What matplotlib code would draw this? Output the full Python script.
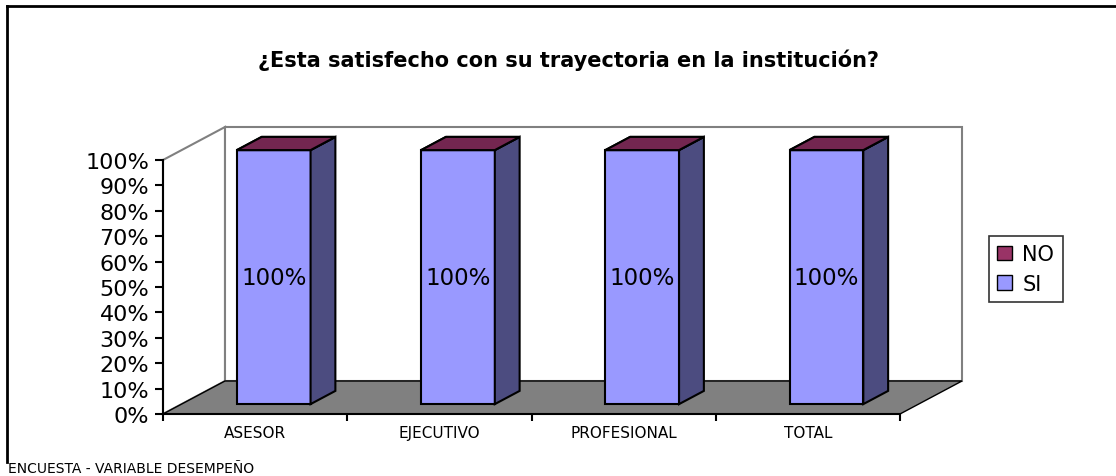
import matplotlib
matplotlib.use("Agg")
import matplotlib.pyplot as plt
from matplotlib.patches import Polygon, Patch
from matplotlib.lines import Line2D

# datos de la encuesta
categorias = ["ASESOR", "EJECUTIVO", "PROFESIONAL", "TOTAL"]
si = [1.00, 1.00, 1.00, 1.00]
no = [0.00, 0.00, 0.00, 0.00]
y_ticks = [0.0, 0.1, 0.2, 0.3, 0.4, 0.5, 0.6, 0.7, 0.8, 0.9, 1.0]

titulo = "¿Esta satisfecho con su trayectoria en la institución?"
pie = "ENCUESTA - VARIABLE DESEMPEÑO"

# colores estilo excel
c_si = "#9999FF"
c_si_lado = "#4C4C80"
c_no = "#993366"
c_no_arriba = "#732650"
gris = "#808080"

W, H = 1116, 477
fig = plt.figure(figsize=(W / 100, H / 100), dpi=100)
fig.patch.set_facecolor("white")

# plano frontal del grafico (en pixeles de la imagen)
x0, x1, y0, y1 = 163, 900, 415, 161
ax = fig.add_axes([x0 / W, 1 - y0 / H, (x1 - x0) / W, (y0 - y1) / H])
n = len(categorias)
ax.set_xlim(0, n)
ax.set_ylim(0, 1)
ax.patch.set_visible(False)

# vector de profundidad en unidades de datos
ddx = 62 / ((x1 - x0) / n)
ddy = 33 / (y0 - y1)
ancho = 0.4
p0, p1 = 0.3, 0.7   # posicion de la barra en la profundidad

# paredes
lado = Polygon([(0, 0), (0, 1), (ddx, 1 + ddy), (ddx, ddy)], closed=True,
               facecolor="white", edgecolor=gris, lw=1.5, clip_on=False, zorder=1)
fondo = Polygon([(ddx, ddy), (ddx, 1 + ddy), (n + ddx, 1 + ddy), (n + ddx, ddy)], closed=True,
                facecolor="white", edgecolor=gris, lw=1.5, clip_on=False, zorder=1)
piso = Polygon([(0, 0), (n, 0), (n + ddx, ddy), (ddx, ddy)], closed=True,
               facecolor=gris, edgecolor="black", lw=1, clip_on=False, zorder=2)
for p in (lado, fondo, piso):
    ax.add_patch(p)

# barras apiladas en 3d
for i in range(n):
    xa = i + 0.5 - ancho / 2 + p0 * ddx
    xb = xa + ancho
    base = p0 * ddy
    dx = (p1 - p0) * ddx
    dy = (p1 - p0) * ddy
    segs = [(si[i], c_si, c_si_lado, c_si), (no[i], c_no, c_no, c_no_arriba)]
    for val, cf, cl, ct in segs:
        ya, yb = base, base + val
        if val > 0:
            ax.add_patch(Polygon([(xa, ya), (xb, ya), (xb, yb), (xa, yb)], closed=True,
                                 facecolor=cf, edgecolor="black", lw=1.5, clip_on=False, zorder=3))
            ax.add_patch(Polygon([(xb, ya), (xb + dx, ya + dy), (xb + dx, yb + dy), (xb, yb)], closed=True,
                                 facecolor=cl, edgecolor="black", lw=1.5, clip_on=False, zorder=3))
        ax.add_patch(Polygon([(xa, yb), (xb, yb), (xb + dx, yb + dy), (xa + dx, yb + dy)], closed=True,
                             facecolor=ct, edgecolor="black", lw=1.5, clip_on=False, zorder=3))
        base = yb
    ax.text(i + 0.5 + p0 * ddx, p0 * ddy + si[i] / 2, "{:.0%}".format(si[i]),
            ha="center", va="center", fontsize=16.5, zorder=4)

# ejes
for s in ("top", "right"):
    ax.spines[s].set_visible(False)
ax.spines["left"].set_linewidth(1.5)
ax.spines["bottom"].set_linewidth(1.5)
ax.spines["left"].set_zorder(5)
ax.spines["bottom"].set_zorder(5)
ax.set_yticks(y_ticks)
ax.set_yticklabels(["{:.0%}".format(t) for t in y_ticks], fontsize=16)
ax.tick_params(axis="y", length=6, width=1.5, pad=4)
ax.set_xticks(range(n + 1))
ax.set_xticklabels([])
ax.tick_params(axis="x", which="major", length=5, width=1.5, direction="out")
ax.set_xticks([i + 0.5 for i in range(n)], minor=True)
ax.set_xticklabels(categorias, minor=True, fontsize=11)
ax.tick_params(axis="x", which="minor", length=0, pad=8)

# leyenda
handles = [Patch(facecolor=c_no, edgecolor="black", label="NO"),
           Patch(facecolor=c_si, edgecolor="black", label="SI")]
leg = fig.legend(handles=handles, loc="center left", bbox_to_anchor=(989 / W, 1 - 270 / H),
                 fontsize=15, frameon=True, fancybox=False, handlelength=0.7, handleheight=0.7,
                 handletextpad=0.5, labelspacing=0.45, borderpad=0.4, borderaxespad=0)
leg.get_frame().set_edgecolor("black")
leg.get_frame().set_linewidth(1.2)

# titulo y pie
fig.text(568 / W, 1 - 60 / H, titulo, ha="center", va="center", fontsize=15, fontweight="bold")
fig.text(8 / W, 1 - 469 / H, pie, ha="left", va="center", fontsize=10)

# marco exterior
fig.add_artist(Line2D([7 / W, 1], [1 - 7 / H, 1 - 7 / H], color="black", lw=2))
fig.add_artist(Line2D([7 / W, 7 / W], [1 - 7 / H, 1 - 463 / H], color="black", lw=2))

fig.savefig("out.png", dpi=100, facecolor="white")
